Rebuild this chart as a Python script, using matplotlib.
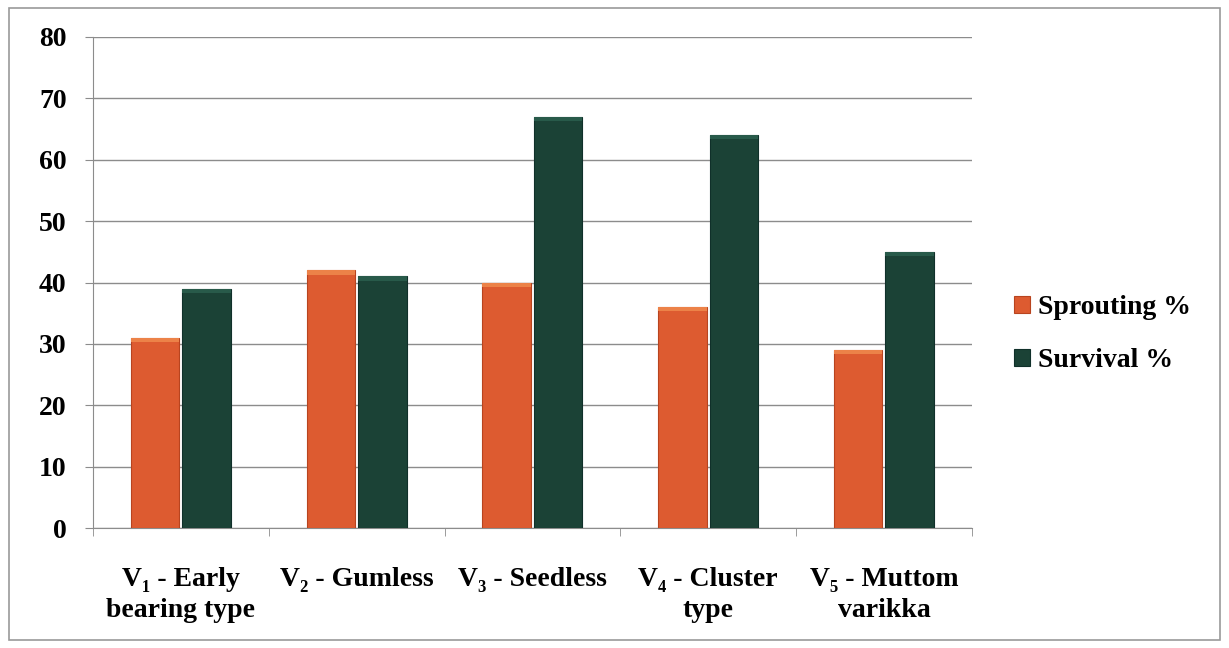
import matplotlib.pyplot as plt
import numpy as np
from matplotlib.patches import Rectangle

# Sprouting and survival of cuttings for each variety
varieties = ['V\u2081 - Early\nbearing type', 'V\u2082 - Gumless', 'V\u2083 - Seedless',
             'V\u2084 - Cluster\ntype', 'V\u2085 - Muttom\nvarikka']
sprouting = [31, 42, 40, 36, 29]
survival = [39, 41, 67, 64, 45]
series_names = ['Sprouting %', 'Survival %']

plt.rcParams['font.family'] = ['Liberation Serif', 'DejaVu Serif']
plt.rcParams['font.weight'] = 'bold'

orange = '#DD5B30'
orange_top = '#EC8248'
green = '#1B4236'
green_top = '#285A4A'

fig = plt.figure(figsize=(12.29, 6.48), dpi=100)
ax = fig.add_axes([0.0757, 0.185, 0.715, 0.758])

x = np.arange(len(varieties))
w = 0.275
gap = 0.009
cap = 0.7

b1 = ax.bar(x - w / 2 - gap, sprouting, w, color=orange, edgecolor='#B8441F', linewidth=0.8,
            label=series_names[0], zorder=3)
b2 = ax.bar(x + w / 2 + gap, survival, w, color=green, edgecolor='#10302A', linewidth=0.8,
            label=series_names[1], zorder=3)
# lighter bevel along the top of each bar
ax.bar(x - w / 2 - gap, [cap] * len(x), w, bottom=np.array(sprouting) - cap,
       color=orange_top, linewidth=0, zorder=4)
ax.bar(x + w / 2 + gap, [cap] * len(x), w, bottom=np.array(survival) - cap,
       color=green_top, linewidth=0, zorder=4)

ax.set_xlim(-0.5, len(varieties) - 0.5)
ax.set_ylim(0, 80)
ax.set_yticks(range(0, 81, 10))
ax.yaxis.grid(True, color='#8C8C8C', linewidth=1.0, zorder=0)
ax.set_axisbelow(True)

ax.set_xticks(x)
ax.set_xticklabels(varieties, fontsize=20, fontweight='bold', linespacing=1.3)
ax.set_xticks(np.arange(-0.5, len(varieties)), minor=True)
ax.tick_params(axis='x', which='major', length=0, pad=28)
ax.tick_params(axis='x', which='minor', length=6, color='#8C8C8C')
ax.tick_params(axis='y', labelsize=20, length=6, color='#8C8C8C', pad=13)
for lab in ax.get_yticklabels():
    lab.set_fontweight('bold')

for side in ['top', 'right']:
    ax.spines[side].set_visible(False)
for side in ['left', 'bottom']:
    ax.spines[side].set_color('#8C8C8C')

ax.legend(handles=[b1, b2], loc='center left', bbox_to_anchor=(1.02, 0.395),
          frameon=False, prop={'weight': 'bold', 'size': 20},
          handlelength=0.55, handleheight=0.55, handletextpad=0.3, labelspacing=1.0)

# thin frame around the whole chart
fig.patches.append(Rectangle((0.007, 0.012), 0.986, 0.975, transform=fig.transFigure,
                             fill=False, edgecolor='#9A9A9A', linewidth=1.2))

fig.savefig('out.png', dpi=100, facecolor='white')
